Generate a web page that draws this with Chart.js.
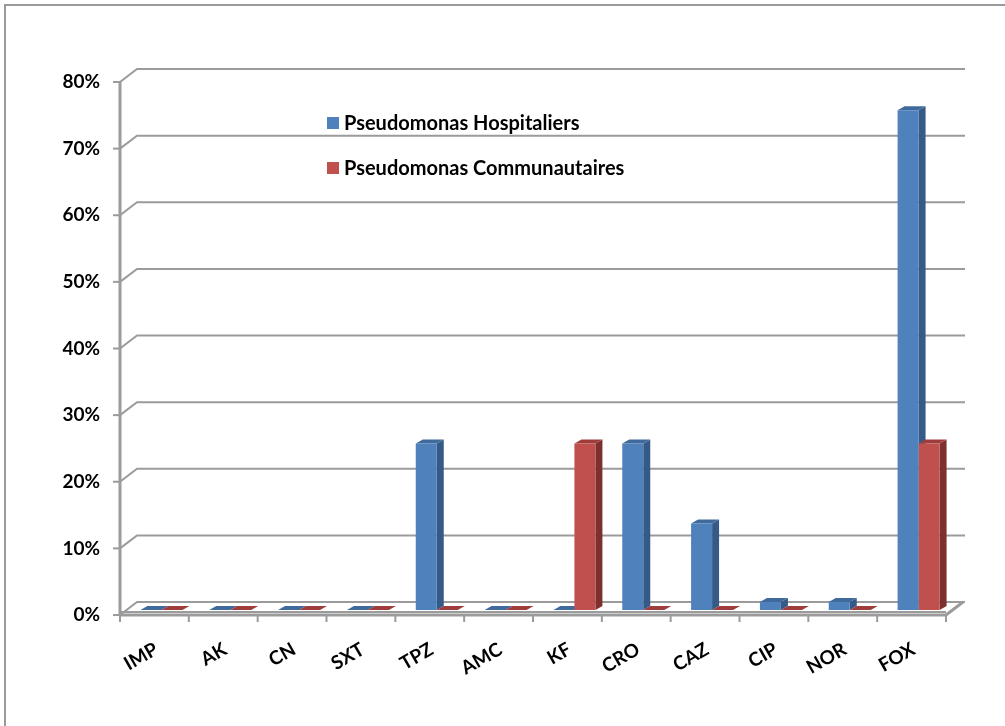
<!DOCTYPE html>
<html>
<head>
<meta charset="utf-8">
<script src="https://cdn.jsdelivr.net/npm/chart.js@4.4.0/dist/chart.umd.min.js"></script>
<style>
    html, body { margin: 0; padding: 0; background: #fff; }
    canvas { display: block; }
</style>
</head>
<body>
<canvas id="chart" width="1005" height="726"></canvas>
<script>
// Resistance rates (%) per antibiotic.
const categories = ['IMP', 'AK', 'CN', 'SXT', 'TPZ', 'AMC', 'KF', 'CRO', 'CAZ', 'CIP', 'NOR', 'FOX'];
const hospitaliers = [0, 0, 0, 0, 25, 0, 0, 25, 13, 1.2, 1.2, 75];
const communautaires = [0, 0, 0, 0, 0, 0, 25, 0, 0, 0, 0, 25];
const seriesLabels = ['Pseudomonas Hospitaliers', 'Pseudomonas Communautaires'];
const yTicks = [0, 10, 20, 30, 40, 50, 60, 70, 80];

const FONT = 'Lato, "Open Sans", sans-serif';
const GRID = '#9b9b9b';
// 3D offsets relative to the bar plane (the chart area)
const DEPTH = { dx: 7, dy: -4 };   // bar side/top faces
const FRONT = { dx: -7, dy: 5 };   // front axis plane
const BACK = { dx: 10, dy: -8 };   // back wall plane

function poly(ctx, pts) {
    ctx.beginPath();
    ctx.moveTo(pts[0][0], pts[0][1]);
    for (let i = 1; i < pts.length; i++) ctx.lineTo(pts[i][0], pts[i][1]);
    ctx.closePath();
    ctx.fill();
}

// ── Frame, back wall grid, floor and the depth faces of the bars ──
const frame3d = {
    id: 'frame3d',
    beforeDraw(chart) {
        const ctx = chart.ctx;
        ctx.save();
        ctx.strokeStyle = '#9a9a9a';
        ctx.lineWidth = 2;
        ctx.strokeRect(5, 5, 1200, 1200);
        ctx.restore();
    },
    beforeDatasetsDraw(chart) {
        const { ctx, chartArea: a, scales: { x, y } } = chart;
        const fl = a.left + FRONT.dx, fr = a.right + FRONT.dx;
        ctx.save();
        ctx.strokeStyle = GRID;

        // gridlines on the back wall, joined to the front axis by a short diagonal
        yTicks.forEach(v => {
            const yf = y.getPixelForValue(v) + FRONT.dy;
            const yb = y.getPixelForValue(v) + BACK.dy;
            ctx.lineWidth = 2;
            ctx.beginPath();
            ctx.moveTo(fl, yf);
            ctx.lineTo(a.left + BACK.dx, yb);
            ctx.lineTo(a.right + BACK.dx + 2, yb);
            ctx.stroke();
            ctx.beginPath();
            ctx.moveTo(fl - 7, yf);
            ctx.lineTo(fl, yf);
            ctx.stroke();
        });

        // floor slab
        const y0f = y.getPixelForValue(0) + FRONT.dy;
        const y0b = y.getPixelForValue(0) + BACK.dy;
        ctx.lineWidth = 3;
        ctx.beginPath();
        ctx.moveTo(fl, y0f);
        ctx.lineTo(fr, y0f);
        ctx.lineTo(a.right + BACK.dx, y0b);
        ctx.stroke();
        ctx.lineWidth = 2;
        ctx.beginPath();
        ctx.moveTo(fl, y0f - 3);
        ctx.lineTo(fr, y0f - 3);
        ctx.stroke();

        // category ticks below the floor
        const step = (a.right - a.left) / categories.length;
        ctx.lineWidth = 2;
        for (let i = 0; i <= categories.length; i++) {
            const px = a.left + i * step + FRONT.dx;
            ctx.beginPath();
            ctx.moveTo(px, y0f);
            ctx.lineTo(px, y0f + 7);
            ctx.stroke();
        }

        // front value axis
        ctx.lineWidth = 3;
        ctx.beginPath();
        ctx.moveTo(fl, y.getPixelForValue(80) + FRONT.dy);
        ctx.lineTo(fl, y0f + 1);
        ctx.stroke();

        // side and top faces of the bars, series in order so the right bar covers the left one
        chart.data.datasets.forEach((ds, di) => {
            const meta = chart.getDatasetMeta(di);
            meta.data.forEach(bar => {
                const { x: cx, y: top, base, width } = bar.getProps(['x', 'y', 'base', 'width'], true);
                const l = cx - width / 2, r = cx + width / 2;
                ctx.fillStyle = ds.sideColor;
                poly(ctx, [[r, top], [r + DEPTH.dx, top + DEPTH.dy], [r + DEPTH.dx, base + DEPTH.dy], [r, base]]);
                ctx.fillStyle = ds.topColor;
                poly(ctx, [[l, top], [l + DEPTH.dx, top + DEPTH.dy], [r + DEPTH.dx, top + DEPTH.dy], [r, top]]);
            });
        });
        ctx.restore();
    }
};

// ── Legend inside the plot, upper left ──
const legendBox = {
    id: 'legendBox',
    afterDraw(chart) {
        const ctx = chart.ctx;
        ctx.save();
        ctx.font = 'bold 20px ' + FONT;
        ctx.textBaseline = 'middle';
        chart.data.datasets.forEach((ds, i) => {
            const cy = 123 + i * 45;
            ctx.fillStyle = ds.backgroundColor;
            ctx.fillRect(327, cy - 6, 12, 12);
            ctx.fillStyle = '#000';
            ctx.fillText(ds.label, 344, cy + 1);
        });
        ctx.restore();
    }
};

new Chart(document.getElementById('chart'), {
    type: 'bar',
    data: {
        labels: categories,
        datasets: [
            { label: seriesLabels[0], data: hospitaliers, backgroundColor: '#4f81bd',
              sideColor: '#365a87', topColor: '#406a9c' },
            { label: seriesLabels[1], data: communautaires, backgroundColor: '#c0504d',
              sideColor: '#7e302e', topColor: '#9e3d3b' }
        ]
    },
    options: {
        responsive: false,
        devicePixelRatio: 1,
        animation: false,
        layout: { padding: { top: 77, right: 52, left: 0, bottom: 0 } },
        datasets: { bar: { categoryPercentage: 0.61, barPercentage: 1 } },
        plugins: { legend: { display: false }, tooltip: { enabled: false } },
        scales: {
            x: {
                grid: { display: false, drawTicks: false },
                border: { display: false },
                afterFit: s => { s.height = 116; },
                ticks: {
                    autoSkip: false, minRotation: 30, maxRotation: 30, padding: 28, labelOffset: -5,
                    color: '#000', font: { family: FONT, size: 19, weight: 'bold' }
                }
            },
            y: {
                min: 0, max: 80,
                grid: { display: false, drawTicks: false },
                border: { display: false },
                afterFit: s => { s.width = 127; },
                ticks: {
                    stepSize: 10, padding: 27, labelOffset: 5,
                    color: '#000', font: { family: FONT, size: 19, weight: 'bold' },
                    callback: v => v + '%'
                }
            }
        }
    },
    plugins: [frame3d, legendBox]
});
</script>
</body>
</html>
